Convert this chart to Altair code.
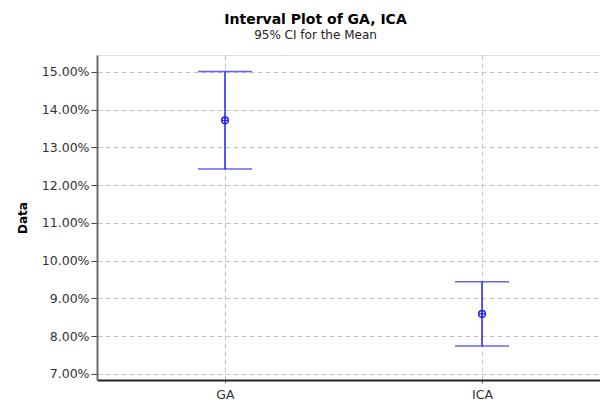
import altair as alt
import pandas as pd

categories = ["GA", "ICA"]
means = [0.1372, 0.0859]
lower = [0.1243, 0.0774]
upper = [0.1501, 0.0944]
y_ticks = [0.07, 0.08, 0.09, 0.10, 0.11, 0.12, 0.13, 0.14, 0.15]

df = pd.DataFrame({
    "cat": categories,
    "idx": list(range(len(categories))),
    "mean": means,
    "lower": lower,
    "upper": upper,
})

label_expr = " : ".join(
    [f"datum.value == {i} ? '{c}'" for i, c in enumerate(categories)] + ["''"]
)

BLUE = "#2424f0"
GRID = "#c4c4c4"
FONT = "DejaVu Sans"

x_enc = alt.X(
    "idx:Q",
    scale=alt.Scale(domain=[-0.498, 1.459], nice=False, zero=False),
    axis=alt.Axis(
        values=list(range(len(categories))),
        labelExpr=label_expr,
        title=None,
        grid=True,
        gridDash=[5, 3],
        gridColor=GRID,
        domainColor="#222222",
        domainWidth=2,
        tickColor="#666666",
        tickSize=3,
        labelFont=FONT,
        labelFontSize=12.5,
        labelColor="#333333",
        labelPadding=5,
    ),
)
y_scale = alt.Scale(domain=[0.0684, 0.1545], nice=False, zero=False)
y_axis = alt.Axis(
    values=y_ticks,
    format=".2%",
    title="Data",
    titleFont=FONT,
    titleFontSize=12,
    titleFontWeight="bold",
    titleColor="#000000",
    titlePadding=12,
    grid=True,
    gridDash=[5, 3],
    gridColor=GRID,
    domainColor="#6a6a6a",
    domainWidth=2,
    tickColor="#444444",
    tickSize=6,
    labelFont=FONT,
    labelFontSize=12.5,
    labelColor="#333333",
    labelPadding=2,
)

base = alt.Chart(df)

whisker = base.mark_rule(color=BLUE, strokeWidth=1.5).encode(
    x=x_enc,
    y=alt.Y("lower:Q", scale=y_scale, axis=y_axis),
    y2="upper:Q",
)
cap_lo = base.mark_tick(orient="horizontal", size=54, thickness=1.5, color=BLUE).encode(
    x="idx:Q", y="lower:Q"
)
cap_hi = base.mark_tick(orient="horizontal", size=54, thickness=1.5, color=BLUE).encode(
    x="idx:Q", y="upper:Q"
)
mean_circle = base.mark_point(
    shape="circle", filled=False, size=45, color=BLUE, strokeWidth=1.5, opacity=1
).encode(x="idx:Q", y="mean:Q")
mean_cross = base.mark_point(
    shape="M-1,0L1,0M0,-1L0,1", filled=False, size=45, color=BLUE, strokeWidth=1.2, opacity=1
).encode(x="idx:Q", y="mean:Q")

chart = (
    alt.layer(whisker, cap_lo, cap_hi, mean_circle, mean_cross)
    .properties(
        width=503,
        height=325,
        autosize=alt.AutoSizeParams(type="none"),
        padding={"left": 97, "top": 55, "right": 0, "bottom": 22},
        title=alt.TitleParams(
            text="Interval Plot of GA, ICA",
            subtitle="95% CI for the Mean",
            font=FONT,
            fontSize=14,
            fontWeight="bold",
            color="#000000",
            subtitleFont=FONT,
            subtitleFontSize=12,
            subtitleColor="#222222",
            subtitlePadding=3,
            anchor="middle",
            dx=-33,
            offset=14,
        ),
    )
    .configure_view(stroke="#222222", strokeWidth=1)
    .configure(background="white")
)

chart.save("out.html", embed_options={"renderer": "svg", "actions": False})
